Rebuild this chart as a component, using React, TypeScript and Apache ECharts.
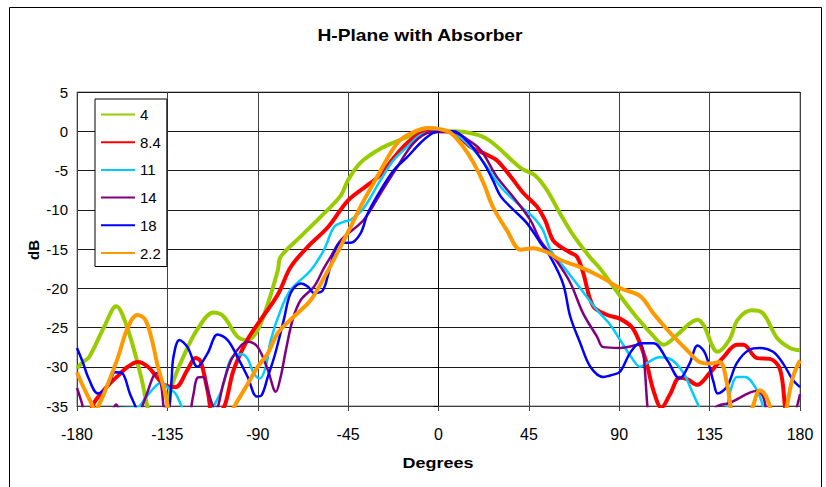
import React, { useEffect, useRef } from "react";
import * as echarts from "echarts";

const seriesNames = ["4", "8.4", "11", "14", "18", "2.2"];
const seriesColors = ["#99CC00", "#FF0000", "#00CCFF", "#800080", "#0000FF", "#FF9900"];
const seriesWidths = [4, 4, 2.5, 2.5, 2.5, 4];

const xTicks = [-180, -135, -90, -45, 0, 45, 90, 135, 180];

const s4Deg = [-180, -177, -174, -166.6, -160.5, -155, -148, -144, -140, -136, -133, -127, -120, -112, -107, -100, -95, -90, -85, -80, -78.6, -68.6, -58.7, -48.7, -45, -38.8, -28.8, -19, -10, 0, 7.5, 20, 27, 41, 48, 54, 61, 67, 75.6, 80.5, 90.5, 99, 106, 112, 119, 125, 129, 132, 139, 145, 149, 156, 161.6, 168.5, 175, 180];
const s4Db = [-30.2, -29.4, -28.8, -25, -22.3, -25, -31.4, -36, -38, -36, -32.6, -28.7, -25.2, -23.1, -23.6, -26.2, -26.6, -25.3, -22, -17.7, -16, -13.4, -10.9, -8.2, -6.2, -4, -2.2, -1.1, -0.2, 0, 0, -0.5, -1.5, -4.7, -5.6, -7.5, -10.7, -13.2, -16.1, -17.5, -21, -23.8, -25.8, -27.2, -25.9, -24.5, -24, -24.7, -28.1, -26.5, -24, -22.8, -23.2, -26.3, -27.6, -27.9];

const s84Deg = [-180, -175, -171.5, -164.6, -159, -154.7, -149.7, -144.7, -140, -136.7, -131, -125, -121, -118.5, -115, -112, -109, -106, -102, -95, -88.5, -80, -73.6, -65, -55, -45, -35, -29, -22, -15.6, -9, 0, 7.5, 16, 24, 29, 36, 42, 49, 53, 57, 60.7, 66, 69, 72, 77, 84, 90.5, 97, 103, 107, 111, 115.5, 120, 124, 128.8, 135, 141.8, 148.6, 151.8, 158.6, 165, 170, 172.5, 175, 180];
const s84Db = [-38, -37, -34.6, -32.4, -31, -30, -29.4, -30, -31.4, -32.3, -32.6, -30.4, -28.9, -29.3, -33, -36.5, -36, -34.6, -30.4, -26.5, -24, -20.8, -17.3, -14.7, -12.2, -8.8, -6.8, -5.6, -3.3, -1.5, -0.3, 0, -0.2, -2, -3, -3.7, -5.8, -7.8, -9.6, -11.3, -13.9, -14.7, -15.5, -16, -18, -22.3, -23.4, -23.9, -25.2, -29, -33, -35.2, -33.4, -31.4, -31.6, -32.3, -30.8, -28.8, -27.2, -27.2, -28.9, -29, -30.3, -35, -40, -40];

const s11Deg = [-180, -172, -165, -158, -150, -146, -141, -138, -135, -131, -128, -124, -118, -113, -108, -103.4, -98, -95, -92, -89, -86, -83.5, -78.6, -73.6, -63.6, -57, -52, -47, -43.8, -37.3, -28.8, -22.4, -15.6, -9, 0, 3, 9.4, 19, 24, 31, 41, 47, 52, 55.7, 63, 70.6, 79, 85, 90.5, 96, 100.4, 104, 110, 115.4, 122, 126, 129, 135, 140, 143.7, 146, 148.6, 152.7, 158.6, 161.6, 166, 180];
const s11Db = [-36, -37, -35.5, -35.3, -35.2, -34, -32.5, -32, -32.6, -33.4, -35, -37, -38, -35.5, -33, -29, -28.4, -29, -30.8, -31.5, -30, -26.6, -22.8, -20.2, -17.7, -15.1, -12.2, -11.5, -11.3, -9.8, -6.2, -3.7, -2, -0.5, 0, 0, -0.5, -2.8, -4.5, -7.1, -9.6, -10.9, -12.6, -15.1, -17.5, -20, -22.8, -24.5, -26.6, -28.8, -30, -29.5, -28.8, -29, -30.8, -33, -34.7, -38, -38, -35, -32.5, -31.3, -31.3, -33, -35, -38, -40];

const s14Deg = [-180, -177.5, -175, -168, -163, -160.5, -158, -152, -146, -142, -140, -138, -136, -130, -125, -122, -120, -117, -115, -111, -107, -103, -98, -95, -90, -85, -81, -78.6, -76, -72.6, -68.6, -62, -57, -53.7, -48.7, -37.3, -28.8, -20.4, -12.4, -4, 2, 7.5, 14, 21, 29, 37.3, 45.7, 50.7, 59, 65.6, 72, 79, 82, 90.5, 100.4, 102, 104, 106, 130, 138, 145, 155, 158.6, 161.6, 164, 170, 176, 178, 180];
const s14Db = [-32.7, -34.7, -37, -38, -36, -34.8, -36, -37, -34, -31.2, -30.8, -32.5, -36, -38, -37, -33.5, -31.4, -31.3, -33, -35.5, -32, -29, -27.2, -26.8, -27.5, -30.4, -33.2, -31.3, -27.9, -24, -21.5, -19.8, -17.4, -16, -13.9, -11.3, -7.9, -4.5, -1.5, -0.1, 0, -0.1, -1, -2.4, -5.8, -8.4, -11.3, -13.9, -16.6, -19.3, -23.2, -26.2, -27.5, -27.6, -27.2, -28.2, -35, -40, -40, -35.2, -34.6, -33.3, -33.1, -33.8, -36, -38, -37, -35.5, -33.5];

const s18Deg = [-180, -177, -174.5, -169.6, -164.6, -161, -157.6, -153.7, -151, -147, -140, -135, -133, -132, -129, -125, -120, -115, -110, -105, -100, -95, -90.5, -88, -85, -81.5, -77, -73.6, -68.6, -65, -62, -57.7, -54.7, -52, -48.7, -43.8, -38.8, -35.3, -28.8, -22.4, -15.6, -9, -2.5, 4, 7.5, 14.4, 22.4, 27, 31, 37.3, 44, 50.7, 55.7, 62, 65.6, 70.6, 75.6, 82, 87, 90.5, 95.5, 100.4, 107, 114, 120, 125, 129, 132.8, 137, 139, 143.7, 148.6, 155, 160, 166.6, 171.6, 176.5, 180];
const s18Db = [-27.6, -29.5, -31.3, -33.4, -32.5, -30.7, -30.8, -33.4, -35, -37.5, -38, -36.5, -32, -28.8, -26.6, -27.5, -30, -28.3, -25.9, -26.6, -28.8, -31.3, -33.8, -33.6, -31.3, -28.5, -24, -20.6, -19.4, -19.8, -20.6, -20.3, -18, -15.6, -14.2, -14.2, -13, -10.5, -7.5, -5, -3.3, -1.5, -0.2, 0, 0, -1.3, -4, -6.2, -8.3, -10, -11.7, -14.2, -16, -19.4, -23.6, -27, -30, -31.3, -31, -30.6, -28.2, -27, -27, -29.2, -31.5, -29.6, -27.3, -28.3, -32, -33.4, -32.5, -29.5, -27.8, -27.6, -28.1, -29.6, -31.7, -32.6];

const s22Deg = [-180, -177.5, -173.5, -171, -168.6, -164.6, -159.6, -154.7, -150, -146, -142.7, -139.7, -136, -134, -130, -110, -104, -101.5, -95, -90, -85, -80, -72, -63.6, -56, -50, -43.8, -38.8, -32.3, -28.8, -24, -19, -12.4, -5.5, 0, 6, 12.4, 17.4, 22.4, 27, 34, 41, 47, 54, 60.7, 70.6, 80.5, 90.5, 100.4, 107, 115.4, 123.8, 130, 135, 140, 143.7, 146, 150, 154, 156.6, 160, 162.5, 165, 168, 172, 173.5, 176.5, 180];
const s22Db = [-30.7, -32.2, -34.3, -35.5, -34.6, -32.2, -28.8, -25, -23.4, -24, -26.6, -30, -33.4, -36, -40, -40, -36.5, -35, -32.2, -30, -28.3, -25.7, -23.6, -21.5, -18.2, -15.3, -12.2, -9.6, -6.6, -5, -2.8, -1.1, -0.1, 0.4, 0.3, -0.2, -2, -4, -6.6, -9.6, -12.6, -15.1, -14.9, -15.4, -16.4, -17.3, -18.5, -20, -21, -23.2, -25.7, -27.9, -29.4, -29.6, -29.4, -32.2, -36, -40, -37, -35, -33, -33.5, -35, -38, -37, -35, -31.3, -29.2];

const allDeg = [s4Deg, s84Deg, s11Deg, s14Deg, s18Deg, s22Deg];
const allDb = [s4Db, s84Db, s11Db, s14Db, s18Db, s22Db];

const FONT = '"Liberation Sans", Arial, sans-serif';

export default function App() {
  const ref = useRef<HTMLDivElement>(null);
  useEffect(() => {
    if (!ref.current) return;
    const chart = echarts.init(ref.current, null, { renderer: "svg" });
    const series = seriesNames.map((name, i) => ({
      name,
      type: "line",
      data: allDeg[i].map((d, j) => [d, allDb[i][j]]),
      smooth: 0.35,
      symbol: "none",
      showSymbol: false,
      clip: true,
      lineStyle: { color: seriesColors[i], width: seriesWidths[i] },
      itemStyle: { color: seriesColors[i] },
      z: 3 + i,
    }));
    chart.setOption({
      animation: false,
      backgroundColor: "#ffffff",
      textStyle: { fontFamily: FONT },
      grid: {
        left: 77,
        right: 26,
        top: 92,
        bottom: 81,
        show: true,
        borderColor: "#808080",
        borderWidth: 1,
        backgroundColor: "transparent",
      },
      xAxis: {
        type: "value",
        min: -180,
        max: 180,
        interval: 45,
        axisLine: { onZero: false, lineStyle: { color: "#404040", width: 1 } },
        axisTick: { show: true, length: 5, lineStyle: { color: "#404040" } },
        axisLabel: { color: "#000", fontSize: 16, margin: 20, fontFamily: FONT },
        splitLine: { show: true, lineStyle: { color: "#404040", width: 1 } },
      },
      yAxis: {
        type: "value",
        min: -35,
        max: 5,
        interval: 5,
        axisLine: { onZero: true, lineStyle: { color: "#000", width: 1 } },
        axisTick: { show: true, length: 5, lineStyle: { color: "#000" } },
        axisLabel: { color: "#000", fontSize: 15, margin: 9, fontFamily: FONT },
        splitLine: { show: true, lineStyle: { color: "#1a1a1a", width: 1 } },
      },
      legend: {
        data: seriesNames,
        orient: "vertical",
        left: 95,
        top: 99,
        padding: [8, 6, 6, 5],
        itemWidth: 34,
        itemHeight: 14,
        itemGap: 12.7,
        itemStyle: { opacity: 0 },
        backgroundColor: "#fff",
        borderColor: "#000",
        borderWidth: 1,
        textStyle: { color: "#000", fontSize: 15, fontFamily: FONT },
      },
      graphic: [
        {
          type: "rect",
          shape: { x: 9.5, y: 7.5, width: 812, height: 500 },
          style: { fill: "none", stroke: "#000", lineWidth: 1 },
          silent: true,
          z: -10,
        },
        {
          type: "text",
          x: 420,
          y: 36,
          scaleX: 1.2,
          style: {
            text: "H-Plane with Absorber",
            font: `bold 16px ${FONT}`,
            fill: "#000",
            align: "center",
            verticalAlign: "middle",
          },
        },
        {
          type: "text",
          x: 33,
          y: 250,
          rotation: Math.PI / 2,
          style: {
            text: "dB",
            font: `bold 15px ${FONT}`,
            fill: "#000",
            align: "center",
            verticalAlign: "middle",
          },
        },
        {
          type: "text",
          x: 438,
          y: 463,
          scaleX: 1.2,
          style: {
            text: "Degrees",
            font: `bold 15px ${FONT}`,
            fill: "#000",
            align: "center",
            verticalAlign: "middle",
          },
        },
      ],
      series,
    });
    return () => chart.dispose();
  }, []);
  return (
    <div
      ref={ref}
      style={{ position: "fixed", left: 0, top: 0, width: 826, height: 487 }}
    />
  );
}
